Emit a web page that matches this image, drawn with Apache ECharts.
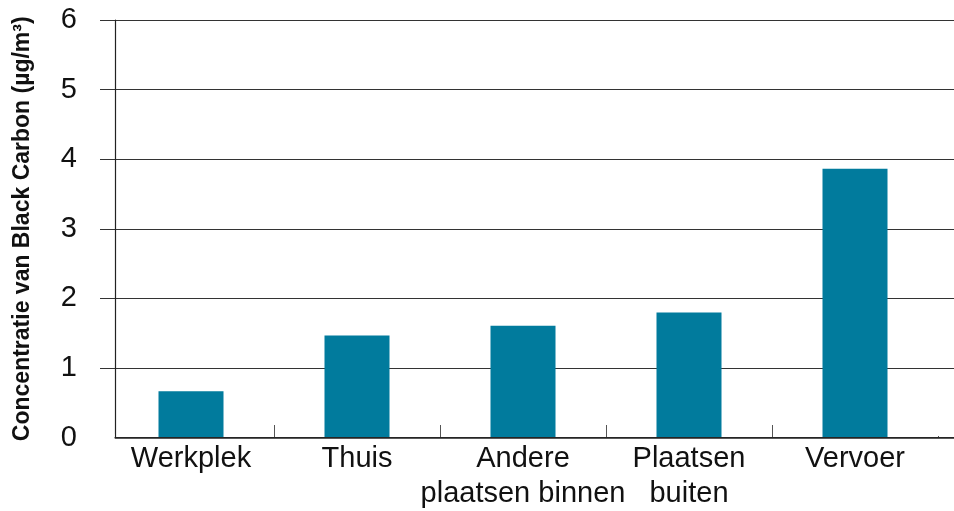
<!DOCTYPE html>
<html>
<head>
<meta charset="utf-8">
<script src="https://cdn.jsdelivr.net/npm/echarts@6/dist/echarts.min.js"></script>
<style>
  html, body { margin: 0; padding: 0; background: #fff; }
  #chart { width: 954px; height: 511px; }
</style>
</head>
<body>
<div id="chart"></div>
<script>
const categories = ['Werkplek', 'Thuis', 'Andere\nplaatsen binnen', 'Plaatsen\nbuiten', 'Vervoer']
const concentration = [0.66, 1.46, 1.6, 1.79, 3.86]
const yMin = 0
const yMax = 6
const yStep = 1

const font = '"Liberation Sans", Arial, Helvetica, sans-serif'
const barColor = '#017b9d'

const chart = echarts.init(document.getElementById('chart'), null, { renderer: 'canvas' })

// grid 0: gridlines + tick labels, grid 1: axis lines, grid 2: bars + categories
const gridTop = 20
const gridBottom = 73.5

chart.setOption({
  animation: false,
  textStyle: { fontFamily: font },
  grid: [
    { left: 100, right: 0, top: gridTop, bottom: gridBottom },
    { left: 115, right: 0, top: gridTop, bottom: gridBottom },
    { left: 108, right: 16, top: gridTop, bottom: gridBottom },
  ],
  xAxis: [
    { gridIndex: 0, type: 'value', min: 0, max: 1, show: false },
    {
      gridIndex: 1, type: 'value', min: 0, max: 1,
      axisLine: { show: true, lineStyle: { color: '#222', width: 1.5 } },
      axisTick: { show: false }, axisLabel: { show: false }, splitLine: { show: false },
    },
    {
      gridIndex: 2, type: 'category', data: categories,
      axisLine: { show: false },
      // only the inner boundaries get a tick
      axisTick: {
        show: true, inside: true, length: 12,
        interval: (i) => i >= 1,
        lineStyle: { color: '#555', width: 1 },
      },
      axisLabel: { color: '#111', fontSize: 29, lineHeight: 35, margin: 4, interval: 0, fontFamily: font },
    },
  ],
  yAxis: [
    {
      gridIndex: 0, type: 'value', min: yMin, max: yMax, interval: yStep,
      axisLine: { show: false }, axisTick: { show: false },
      axisLabel: { color: '#111', fontSize: 29, margin: 23, fontFamily: font },
      splitLine: { show: true, lineStyle: { color: '#333', width: 1.2 } },
      name: 'Concentratie van Black Carbon (µg/m³)',
      nameLocation: 'middle',
      nameGap: 66,
      nameTextStyle: { fontSize: 23, fontWeight: 'bold', color: '#111', fontFamily: font },
    },
    {
      gridIndex: 1, type: 'value', min: yMin, max: yMax,
      axisLine: { show: true, lineStyle: { color: '#222', width: 1.2 } },
      axisTick: { show: false }, axisLabel: { show: false }, splitLine: { show: false },
    },
    { gridIndex: 2, type: 'value', min: yMin, max: yMax, show: false },
  ],
  graphic: [
    // hide the zero gridline left of the axis and the outer right tick
    { type: 'rect', left: 99, top: 434, shape: { width: 15.5, height: 7 }, style: { fill: '#fff' }, z: 5 },
    { type: 'rect', left: 934, top: 420, shape: { width: 8, height: 16 }, style: { fill: '#fff' }, z: 5 },
  ],
  series: [
    {
      type: 'bar',
      xAxisIndex: 2,
      yAxisIndex: 2,
      data: concentration,
      barWidth: 65,
      itemStyle: { color: barColor },
    },
  ],
})
</script>
</body>
</html>
